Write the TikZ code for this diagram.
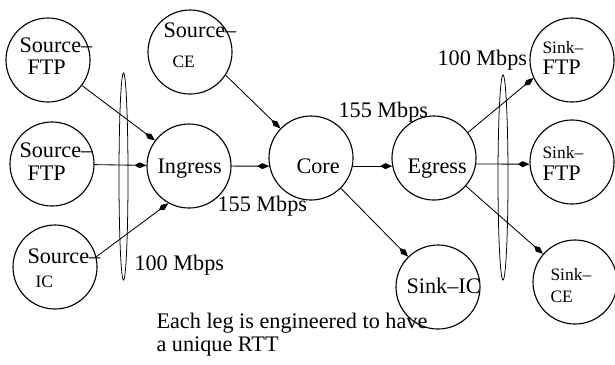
\documentclass[tikz,border=0pt]{standalone}
\usepackage{fontspec}
\setmainfont{Liberation Serif}
\usetikzlibrary{arrows.meta,positioning,calc}
\tikzset{every picture/.style={line width=0.75pt}}
\newcommand{\bigfs}{\fontsize{15.8}{18}\selectfont}
\newcommand{\smallfs}{\fontsize{12.4}{14}\selectfont}
\tikzset{
  host/.style={draw, circle, minimum size=2.1cm, inner sep=0pt, line width=0.8pt},
  txt/.style={inner sep=0pt, anchor=base west, font=\bigfs},
  stxt/.style={inner sep=0pt, anchor=base west, font=\smallfs},
  link/.style={line width=0.6pt, -{Kite[length=8.5pt,width=4.2pt,inset=3.6pt]}},
  bundle/.style={line width=0.55pt}
}

\begin{document}
\begin{tikzpicture}[x=0.025cm, y=-0.025cm]
    \useasboundingbox (0,0) rectangle (615,364);
    % 源端
    \node[host] (srcA) at (48,60) {};
    \node[host] (srcB) at (52,164) {};
    \node[host] (srcC) at (55,267) {};
    \node[host] (srcD) at (190,52) {};
    % 路由器
    \node[host] (ingress) at (189,166) {};
    \node[host] (core) at (311,158) {};
    \node[host] (egress) at (434,158) {};
    % 汇端
    \node[host] (sinkA) at (572,60) {};
    \node[host] (sinkB) at (572,162) {};
    \node[host] (sinkIC) at (438,287) {};
    \node[host] (sinkCE) at (575,282) {};
    % 结点文字
    \node[txt] (srcAt) at (19,52) {Source\textendash};
    \node[txt] (srcAs) at (27,74) {FTP};
    \node[txt] (srcBt) at (19,157) {Source\textendash};
    \node[txt] (srcBs) at (27,180) {FTP};
    \node[txt] (srcCt) at (27,263) {Source\textendash};
    \node[stxt] (srcCs) at (35,287) {IC};
    \node[txt] (srcDt) at (163,37) {Source\textendash};
    \node[stxt] (srcDs) at (172,67) {CE};
    \node[txt] (ingresst) at (157,173) {Ingress};
    \node[txt] (coret) at (296,173) {Core};
    \node[txt] (egresst) at (407,173) {Egress};
    \node[stxt] (sinkAt) at (542,53) {Sink\textendash};
    \node[txt] (sinkAs) at (542,74) {FTP};
    \node[stxt] (sinkBt) at (542,158) {Sink\textendash};
    \node[txt] (sinkBs) at (542,180) {FTP};
    \node[txt] (sinkICt) at (406,293) {Sink\textendash IC};
    \node[stxt] (sinkCEt) at (550,280) {Sink\textendash};
    \node[stxt] (sinkCEs) at (550,302) {CE};
    % 链路
    \draw[link] (srcA) -- (ingress);
    \draw[link] (srcB) -- (ingress);
    \draw[link] (srcC.14) -- (ingress.241);
    \draw[link] (srcD.-33) -- (core.136);
    \draw[link] (ingress) -- (core.191);
    \draw[link] (core.-11) -- (egress.191);
    \draw[link] (core) -- (sinkIC);
    \draw[link] (egress.37) -- (sinkA.205);
    \draw[link] (egress.-8) -- (sinkB.183);
    \draw[link] (egress) -- (sinkCE);
    % 链路组
    \draw[bundle] (123.5,176.5) ellipse [x radius=4.5, y radius=103.5];
    \draw[bundle] (503,177.5) ellipse [x radius=5, y radius=102.5];
    % 带宽标注
    \node[txt] (bwA) at (134,270) {100 Mbps};
    \node[txt] (bwB) at (217,211) {155 Mbps};
    \node[txt] (bwC) at (338,117) {155 Mbps};
    \node[txt] (bwD) at (437,65) {100 Mbps};
    % 说明
    \node[txt] (noteA) at (156,328) {Each leg is engineered to have};
    \node[txt] (noteB) at (156,351) {a unique RTT};
\end{tikzpicture}
\end{document}
